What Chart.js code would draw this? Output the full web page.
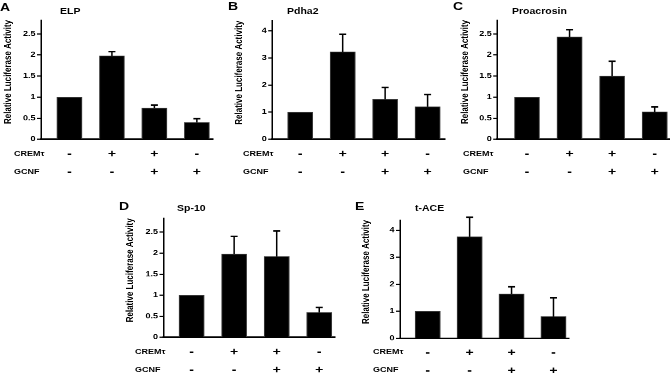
<!DOCTYPE html>
<html>
<head>
<meta charset="utf-8">
<script src="https://cdn.jsdelivr.net/npm/chart.js@4.4.1/dist/chart.umd.min.js"></script>
<style>
html, body { margin: 0; padding: 0; background: #fff; overflow: hidden; }
#fig {
    position: absolute; left: 0; top: 0; width: 670px; height: 470px;
    transform: scale(1, 0.8); transform-origin: 0 0;
    font-family: "Liberation Sans", Arial, sans-serif; font-weight: bold; color: #000;
}
#fig canvas { position: absolute; }
.lbl { position: absolute; white-space: nowrap; line-height: 1; }
</style>
</head>
<body>
<div id="fig"></div>
<script>
// data
const conditions = [['-', '-'], ['+', '-'], ['+', '+'], ['-', '+']];   // CREMτ / GCNF
const rowNames = ['CREMτ', 'GCNF'];
const letters = ['A', 'B', 'C', 'D', 'E'];
const genes = ['ELP', 'Pdha2', 'Proacrosin', 'Sp-10', 't-ACE'];
const yTitle = 'Relative Luciferase Activity';

const elpMean = [1.0, 1.98, 0.74, 0.40];
const elpErr = [0, 0.10, 0.07, 0.09];
const pdha2Mean = [1.0, 3.22, 1.47, 1.20];
const pdha2Err = [0, 0.65, 0.44, 0.45];
const proacrosinMean = [1.0, 2.43, 1.50, 0.65];
const proacrosinErr = [0, 0.17, 0.35, 0.12];
const sp10Mean = [1.0, 1.98, 1.92, 0.59];
const sp10Err = [0, 0.42, 0.61, 0.12];
const taceMean = [1.0, 3.76, 1.64, 0.80];
const taceErr = [0, 0.72, 0.27, 0.70];

const ticksHalf = [0, 0.5, 1, 1.5, 2, 2.5];
const ticksOne = [0, 1, 2, 3, 4];

// the source figure is squashed vertically, so draw tall and scale by SY
const SY = 0.8;
const FONT = '"Liberation Sans", Arial, sans-serif';
const fig = document.getElementById('fig');

// layout in picture pixels
const panels = [
    { left: 0,     axis: 41,    right: 213,   top: 20,    bottom: 139.3, yMax: 2.83, xMin: -0.67, xMax: 3.38, row: 0,
      letterX: 0,   letterY: 7,     titleX: 60,  titleY: 11.5,  rowX: 14,  rowY: [154, 172] },
    { left: 230.5, axis: 271.7, right: 444,   top: 20.7,  bottom: 139.3, yMax: 4.37, xMin: -0.66, xMax: 3.41, row: 0,
      letterX: 228, letterY: 6.5,   titleX: 287, titleY: 11,    rowX: 243, rowY: [154, 172] },
    { left: 456.5, axis: 496.7, right: 669.5, top: 20,    bottom: 139.3, yMax: 2.83, xMin: -0.70, xMax: 3.36, row: 0,
      letterX: 453, letterY: 6.5,   titleX: 512, titleY: 11,    rowX: 463, rowY: [154, 172] },
    { left: 122,   axis: 163.5, right: 335,   top: 218.3, bottom: 337.3, yMax: 2.83, xMin: -0.66, xMax: 3.37, row: 1,
      letterX: 119, letterY: 206,   titleX: 177, titleY: 208.5, rowX: 135, rowY: [352, 370] },
    { left: 358,   axis: 400,   right: 569.3, top: 220,   bottom: 338.3, yMax: 4.38, xMin: -0.66, xMax: 3.37, row: 1,
      letterX: 355, letterY: 206.5, titleX: 415, titleY: 208.5, rowX: 373, rowY: [352, 370] }
];
const means = [elpMean, pdha2Mean, proacrosinMean, sp10Mean, taceMean];
const errs = [elpErr, pdha2Err, proacrosinErr, sp10Err, taceErr];
const yTicks = [ticksHalf, ticksOne, ticksHalf, ticksHalf, ticksOne];

const errorBars = {
    id: 'errorBars',
    afterDatasetsDraw(chart) {
        const ctx = chart.ctx;
        const y = chart.scales.y;
        const ds = chart.data.datasets[0];
        chart.getDatasetMeta(0).data.forEach((bar, i) => {
            const e = ds.errors[i];
            if (!e) return;
            const v = ds.data[i].y;
            const y0 = y.getPixelForValue(v);
            const y1 = y.getPixelForValue(v + e);
            ctx.save();
            ctx.strokeStyle = '#000';
            ctx.lineWidth = 1.5;
            ctx.beginPath(); ctx.moveTo(bar.x, y0); ctx.lineTo(bar.x, y1); ctx.stroke();
            ctx.lineWidth = 2;
            ctx.beginPath(); ctx.moveTo(bar.x - 3.5, y1); ctx.lineTo(bar.x + 3.5, y1); ctx.stroke();
            ctx.restore();
        });
    }
};

function addText(text, x, yc, size) {
    const d = document.createElement('div');
    d.className = 'lbl';
    d.textContent = text;
    d.style.fontSize = size + 'px';
    d.style.left = x + 'px';
    d.style.top = (yc / SY - 0.49 * size) + 'px';
    fig.appendChild(d);
}

function makePanel(k) {
    const p = panels[k];
    const top = p.row === 0 ? 0 : 230;
    const h = p.row === 0 ? 237 : 240;
    const cv = document.createElement('canvas');
    cv.width = Math.round(p.right - p.left + 1);
    cv.height = h;
    cv.style.left = p.left + 'px';
    cv.style.top = top + 'px';
    fig.appendChild(cv);

    const padTop = p.top / SY - top;
    const xH = top + h - p.bottom / SY;

    new Chart(cv, {
        type: 'bar',
        data: {
            datasets: [{
                data: means[k].map((v, i) => ({ x: i, y: v })),
                errors: errs[k],
                backgroundColor: '#000',
                borderColor: '#3c3c3c',
                borderWidth: 1,
                barThickness: 25
            }]
        },
        options: {
            responsive: false,
            animation: false,
            events: [],
            devicePixelRatio: 2,
            layout: { padding: { top: padTop, right: 1, left: 0, bottom: 0 } },
            plugins: { legend: { display: false }, tooltip: { enabled: false } },
            scales: {
                x: {
                    type: 'linear',
                    offset: false,
                    min: p.xMin,
                    max: p.xMax,
                    afterFit: s => { s.height = xH; },
                    afterBuildTicks: s => { s.ticks = conditions.map((c, i) => ({ value: i })); },
                    grid: { display: false, drawTicks: false, offset: false },
                    border: { display: true, color: '#000', width: 2 },
                    ticks: {
                        callback: v => conditions[v],
                        color: '#000',
                        font: { family: FONT, size: 14, weight: 'bold', lineHeight: 22.5 / 14 },
                        padding: 7.1,
                        autoSkip: false,
                        maxRotation: 0
                    }
                },
                y: {
                    min: 0,
                    max: p.yMax,
                    afterFit: s => { s.width = p.axis - p.left; },
                    afterBuildTicks: s => { s.ticks = yTicks[k].map(v => ({ value: v })); },
                    grid: { display: true, drawOnChartArea: false, drawTicks: true, tickLength: 4, tickWidth: 1.5, tickColor: '#000' },
                    border: { display: true, color: '#000', width: 1.5 },
                    ticks: {
                        callback: v => String(v),
                        color: '#000',
                        font: { family: FONT, size: 9, weight: 'bold' },
                        padding: 1.5
                    },
                    title: {
                        display: true,
                        text: yTitle,
                        align: 'end',
                        color: '#000',
                        font: { family: FONT, size: 10, weight: 'bold' },
                        padding: { top: 2, bottom: 0 }
                    }
                }
            }
        },
        plugins: [errorBars]
    });

    addText(letters[k], p.letterX, p.letterY, 14);
    addText(genes[k], p.titleX, p.titleY, 10.5);
    rowNames.forEach((r, j) => addText(r, p.rowX, p.rowY[j], 9));
}

panels.forEach((p, k) => makePanel(k));
</script>
</body>
</html>
